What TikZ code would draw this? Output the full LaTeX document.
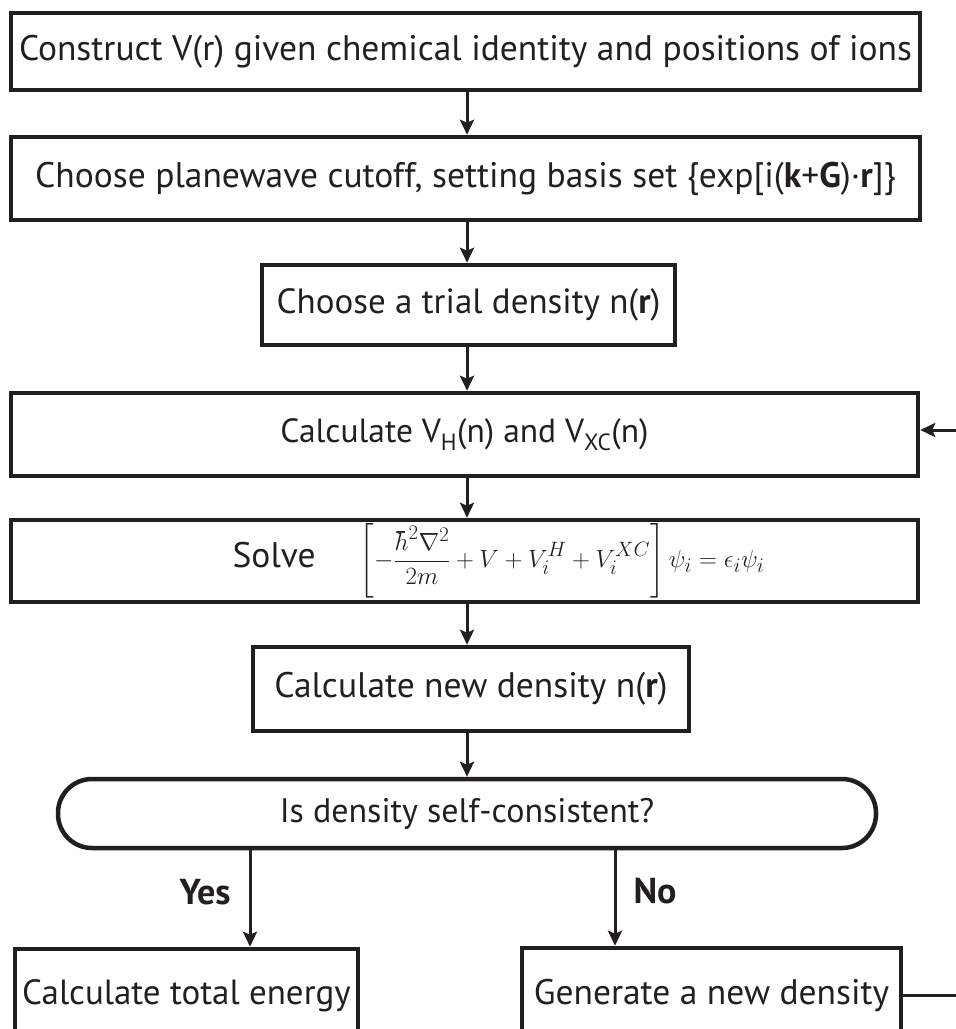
\documentclass[tikz,border=0pt]{standalone}
\usepackage{fontspec}
\setmainfont{PT Sans}
\usepackage{amsmath}
\usetikzlibrary{arrows.meta}
\definecolor{ink}{RGB}{35,31,32}
\newcommand{\fs}[1]{\fontsize{#1}{#1}\selectfont}
\begin{document}
\begin{tikzpicture}[x=1pt,y=-1pt,
  box/.style={draw=ink, text=ink, line width=4.5pt, inner sep=0pt, rectangle, font=\fs{35.5}},
  arr/.style={draw=ink, line width=3pt, -{Stealth[length=15pt,width=14pt,inset=3pt]}},
  lab/.style={text=ink, font=\fs{36}\bfseries},
]
\useasboundingbox (0,0) rectangle (956,1029);
\coordinate (colx) at (467,0);
\coordinate (yesx) at (250,0);
\coordinate (nox) at (615,0);
\coordinate (fby) at (0,430);

\node[box, minimum width=909pt, minimum height=77pt] (b1) at (465.5,51.5)
  {Construct V(r) given chemical identity and positions of ions};
\node[box, minimum width=909pt, minimum height=83pt] (b2) at (465.5,178.5)
  {Choose planewave cutoff, setting basis set \{exp[i(\textbf{k}+\textbf{G})·\textbf{r}]\}};
\node[box, font=\fs{35}, minimum width=413pt, minimum height=80pt] (b3) at (468.5,305)
  {Choose a trial density n(\textbf{r})};
\node[box, font=\fs{33.5}, minimum width=907pt, minimum height=83pt] (b4) at (464.5,434.5)
  {Calculate V\textsubscript{H}(n) and V\textsubscript{XC}(n)};
\node[box, minimum width=907pt, minimum height=82pt] (b5) at (464.5,561)
  {\hspace{68pt}Solve\hspace{44pt}{\fs{29.5}$\displaystyle\left[-\frac{\hbar^2\nabla^2}{2m}+V+V_i^H+V_i^{XC}\right]\psi_i=\epsilon_i\psi_i$}};
\node[box, font=\fs{35.5}, minimum width=436pt, minimum height=84pt] (b6) at (471,689)
  {Calculate new density n(\textbf{r})};
\node[box, font=\fs{34}, minimum width=818pt, minimum height=69pt, rounded corners=34pt] (dec) at (467,813.5)
  {Is density self-consistent?};
\node[box, font=\fs{35}, minimum width=343pt, minimum height=94pt] (b8) at (186.5,996)
  {Calculate total energy};
\node[box, font=\fs{35.5}, minimum width=379pt, minimum height=94pt] (b9) at (711.5,995)
  {Generate a new density};

\node[lab] (yes) at (205,892) {Yes};
\node[lab] (no) at (655,891) {No};

\draw[arr] (b1.south -| colx) -- (b2.north -| colx);
\draw[arr] (b2.south -| colx) -- (b3.north -| colx);
\draw[arr] (b3.south -| colx) -- (b4.north -| colx);
\draw[arr] (b4.south -| colx) -- (b5.north -| colx);
\draw[arr] (b5.south -| colx) -- (b6.north -| colx);
\draw[arr] (b6.south -| colx) -- (dec.north -| colx);
\draw[arr] (dec.south -| yesx) -- (b8.north -| yesx);
\draw[arr] (dec.south -| nox) -- (b9.north -| nox);
\draw[arr] (b9.east) -- ++(70,0) |- (b4.east |- fby);
\end{tikzpicture}
\end{document}
